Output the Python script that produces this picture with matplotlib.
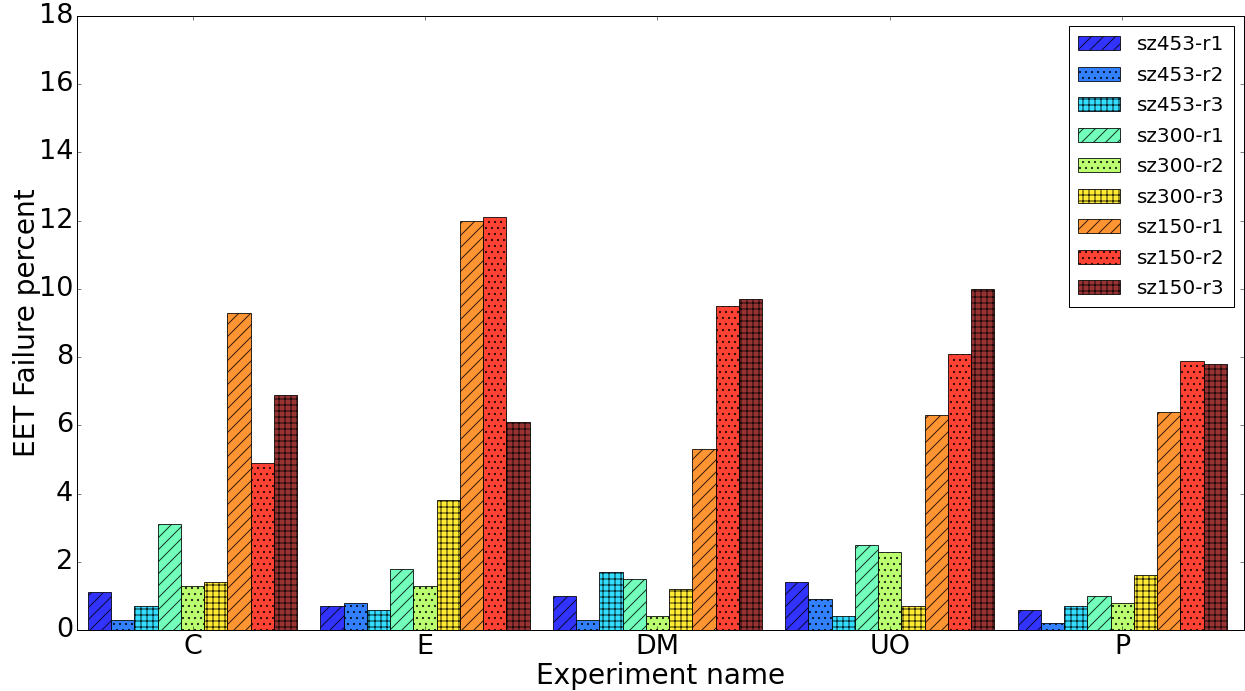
import numpy as np
import matplotlib
matplotlib.use("Agg")
import matplotlib.pyplot as plt

plt.style.use("classic")

experiments = ["C", "E", "DM", "UO", "P"]
series_names = ["sz453-r1", "sz453-r2", "sz453-r3",
                "sz300-r1", "sz300-r2", "sz300-r3",
                "sz150-r1", "sz150-r2", "sz150-r3"]

sz453_r1 = [1.1, 0.7, 1.0, 1.4, 0.6]
sz453_r2 = [0.3, 0.8, 0.3, 0.9, 0.2]
sz453_r3 = [0.7, 0.6, 1.7, 0.4, 0.7]
sz300_r1 = [3.1, 1.8, 1.5, 2.5, 1.0]
sz300_r2 = [1.3, 1.3, 0.4, 2.3, 0.8]
sz300_r3 = [1.4, 3.8, 1.2, 0.7, 1.6]
sz150_r1 = [9.3, 12.0, 5.3, 6.3, 6.4]
sz150_r2 = [4.9, 12.1, 9.5, 8.1, 7.9]
sz150_r3 = [6.9, 6.1, 9.7, 10.0, 7.8]

series = [sz453_r1, sz453_r2, sz453_r3,
          sz300_r1, sz300_r2, sz300_r3,
          sz150_r1, sz150_r2, sz150_r3]

hatches = ["//", "..", "++"] * 3
colors = plt.cm.jet(np.linspace(0, 1, len(series) + 1)[1:])

width = 0.1
x = np.arange(len(experiments))

dpi = 72
fig = plt.figure(figsize=(1245 / dpi, 691 / dpi), dpi=dpi, facecolor="white")
ax = fig.add_axes([0.0621, 0.0883, 0.9371, 0.8885])
ax.set_facecolor("white")

for k, (name, vals) in enumerate(zip(series_names, series)):
    ax.bar(x + k * width, vals, width, align="edge", color=colors[k],
           edgecolor="black", hatch=hatches[k], alpha=0.8, linewidth=1.0,
           label=name)

ax.set_xlim(-0.046, 4.974)
ax.set_ylim(0, 18)
ax.set_yticks(np.arange(0, 19, 2))
ax.set_xticks(x + width * len(series) / 2)
ax.set_xticklabels(experiments)
ax.tick_params(axis="both", labelsize=27)
ax.set_xlabel("Experiment name", fontsize=28, labelpad=2)
ax.set_ylabel("EET Failure percent", fontsize=28, labelpad=-2)

leg = ax.legend(loc="upper right", fontsize=20, fancybox=False,
                borderaxespad=0.5, labelspacing=0.575, handlelength=2.1,
                handletextpad=0.85, borderpad=0.45)
leg.get_frame().set_edgecolor("black")

fig.savefig("out.png", dpi=dpi, facecolor="white")
